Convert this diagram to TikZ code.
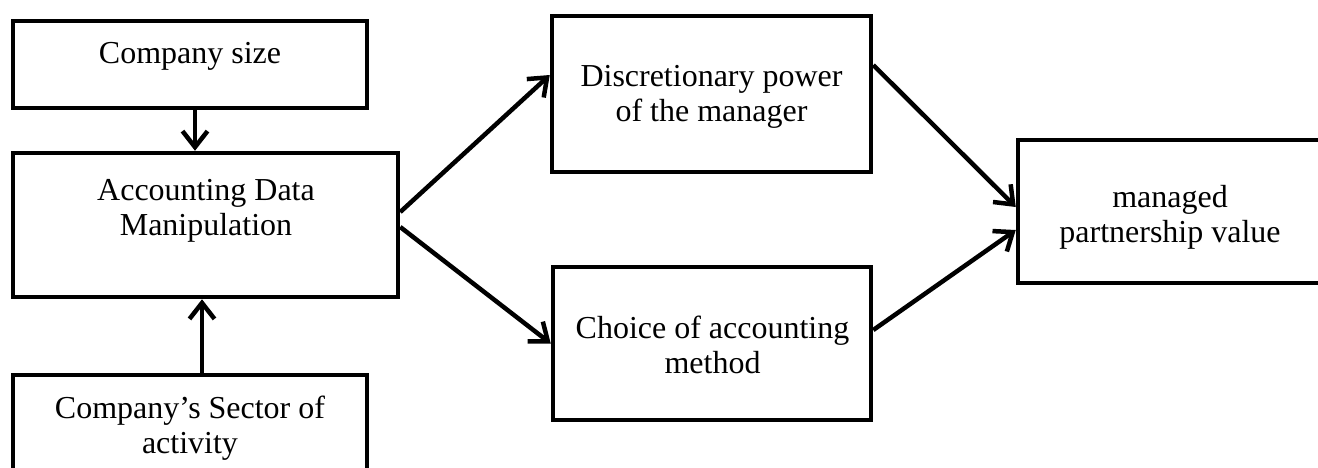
\documentclass[tikz,border=0pt]{standalone}
\usepackage{fontspec}
\setmainfont{Liberation Serif}
\usetikzlibrary{arrows.meta}

\tikzset{
  box/.style={draw, line width=0.09cm, inner sep=0pt},
  lbl/.style={align=center, inner sep=0pt, font=\fontsize{18.2}{20}\selectfont},
  arr/.style={line width=0.09cm, -{Straight Barb[length=0.32cm, width=0.5cm]}}
}

\begin{document}
\begin{tikzpicture}
\clip (0,0) rectangle (26.36,-9.34);

\node[box, minimum width=7.08cm, minimum height=1.74cm] (size) at (3.80,-1.29) {};
\node[box, minimum width=7.70cm, minimum height=2.88cm] (adm) at (4.11,-4.50) {};
\node[box, minimum width=7.08cm, minimum height=2.50cm] (sector) at (3.80,-8.75) {};
\node[box, minimum width=6.38cm, minimum height=3.12cm] (disc) at (14.23,-1.88) {};
\node[box, minimum width=6.36cm, minimum height=3.06cm] (choice) at (14.24,-6.87) {};
\node[box, minimum width=6.12cm, minimum height=2.86cm] (mpv) at (23.42,-4.23) {};

\node[lbl, anchor=base] (sizetxt) at (3.80,-1.26) {Company size};
\node[lbl] (admtxt) at (4.12,-4.22) {Accounting Data\\Manipulation};
\node[lbl] (sectortxt) at (3.80,-8.56) {Company’s Sector of\\activity};
\node[lbl] (disctxt) at (14.23,-1.94) {Discretionary power\\of the manager};
\node[lbl] (choicetxt) at (14.25,-6.89) {Choice of accounting\\method};
\node[lbl] (mpvtxt) at (23.40,-4.34) {managed\\partnership value};

\draw[arr] ([xshift=0.1cm]size.south) -- ([xshift=0.1cm]size.south |- adm.north);
\draw[arr] ([xshift=0.24cm]sector.north) -- ([xshift=0.24cm]sector.north |- adm.south);

\draw[arr] ([yshift=0.26cm]adm.east) -- ([yshift=0.38cm]disc.west);
\draw[arr] ([yshift=-0.04cm]adm.east) -- (choice.west);

\draw[arr] ([yshift=0.58cm]disc.east) -- ([yshift=0.09cm]mpv.west);
\draw[arr] ([yshift=0.27cm]choice.east) -- ([yshift=-0.37cm]mpv.west);
\end{tikzpicture}
\end{document}
